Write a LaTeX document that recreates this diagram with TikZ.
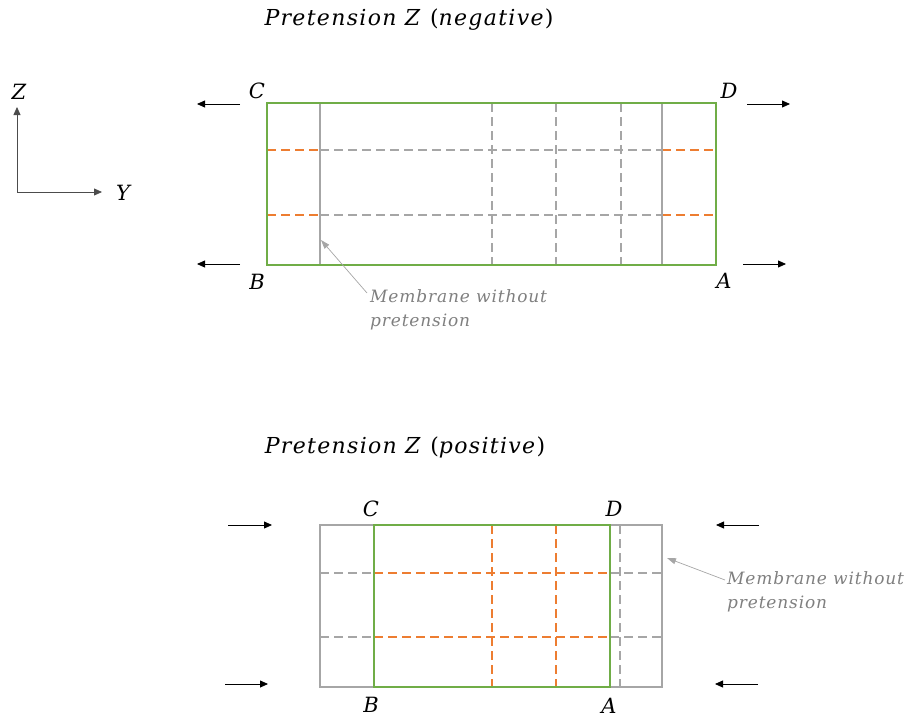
\documentclass[tikz,border=0pt]{standalone}
\usepackage{fontspec}
\setmainfont{DejaVu Serif}
\newfontfamily\wideserif[LetterSpace=6]{DejaVu Serif}
\newfontfamily\noteserif[LetterSpace=5]{DejaVu Serif}
\usetikzlibrary{arrows.meta}
\definecolor{mgreen}{HTML}{70AD47}
\definecolor{morange}{HTML}{ED7D31}
\definecolor{mgray}{HTML}{A6A6A6}
\definecolor{tgray}{HTML}{7F7F7F}
\tikzset{
  grn/.style={draw=mgreen, line width=1.3pt},
  gryline/.style={draw=mgray, line width=1.3pt},
  odash/.style={draw=morange, line width=1.3pt, dash pattern=on 9pt off 5pt},
  gdash/.style={draw=mgray, line width=1.3pt, dash pattern=on 9pt off 5pt},
  force/.style={draw=black, line width=0.8pt, -{Triangle[length=8pt,width=7pt]}},
  lbl/.style={font=\fontsize{21}{25}\selectfont\itshape, inner sep=0pt},
  ttl/.style={font=\wideserif\fontsize{22}{26}\selectfont, inner sep=0pt},
  note/.style={font=\noteserif\fontsize{17}{24}\selectfont\itshape, text=tgray, align=left, inner sep=0pt},
  pointer/.style={draw=mgray, line width=0.7pt, -{Triangle[length=9pt,width=6pt]}}
}
\begin{document}
\begin{tikzpicture}[x=1pt,y=-1pt]
\useasboundingbox (0,0) rectangle (911,717);
% ---------- titles
\node[ttl] (t1) at (409,20) {\textit{Pretension Z} (\textit{negative})};
\node[ttl] (t2) at (405,447) {\textit{Pretension Z} (\textit{positive})};
% ---------- axes
\coordinate (o) at (17,192);
\coordinate (zt) at (17,107);
\coordinate (yt) at (102,192);
\draw[force, draw=black!70] (o) -- (zt);
\draw[force, draw=black!70] (o) -- (yt);
\node[lbl] (zl) at (19,92) {Z};
\node[lbl] (yl) at (123,193) {Y};
% ---------- top diagram
\coordinate (gTL) at (267,103);
\coordinate (gBR) at (716,265);
\coordinate (mTL) at (320,103);
\coordinate (mBR) at (662,265);
\foreach \yy in {150,215}{
  \draw[odash] (267,\yy) -- (320,\yy);
  \draw[gdash] (320,\yy) -- (662,\yy);
  \draw[odash] (662,\yy) -- (716,\yy);
}
\foreach \xx in {492,556,621}{
  \draw[gdash] (\xx,103) -- (\xx,265);
}
\draw[gryline] (mTL) rectangle (mBR);
\draw[grn] (gTL) rectangle (gBR);
\node[lbl] (C1) at (257,91) {C};
\node[lbl] (D1) at (729,91) {D};
\node[lbl] (B1) at (257,282) {B};
\node[lbl] (A1) at (724,281) {A};
\coordinate (f1a) at (240,104); \coordinate (f1b) at (197,104);
\coordinate (f2a) at (240,264); \coordinate (f2b) at (197,264);
\coordinate (f3a) at (747,104); \coordinate (f3b) at (790,104);
\coordinate (f4a) at (743,264); \coordinate (f4b) at (786,264);
\draw[force] (f1a) -- (f1b);
\draw[force] (f2a) -- (f2b);
\draw[force] (f3a) -- (f3b);
\draw[force] (f4a) -- (f4b);
\node[note, anchor=north west] (n1) at (370,289) {Membrane without\\pretension};
\coordinate (p1s) at (367,293);
\coordinate (p1e) at (321,240);
\draw[pointer] (p1s) -- (p1e);
% ---------- bottom diagram
\coordinate (hTL) at (320,525);
\coordinate (hBR) at (662,687);
\coordinate (kTL) at (374,525);
\coordinate (kBR) at (610,687);
\foreach \yy in {573,637}{
  \draw[gdash] (320,\yy) -- (374,\yy);
  \draw[odash] (374,\yy) -- (610,\yy);
  \draw[gdash] (610,\yy) -- (662,\yy);
}
\foreach \xx in {492,556}{
  \draw[odash] (\xx,525) -- (\xx,687);
}
\draw[gdash] (620,525) -- (620,687);
\draw[gryline] (hTL) rectangle (hBR);
\draw[grn] (kTL) rectangle (kBR);
\node[lbl] (C2) at (371,509) {C};
\node[lbl] (D2) at (614,509) {D};
\node[lbl] (B2) at (371,705) {B};
\node[lbl] (A2) at (609,706) {A};
\coordinate (g1a) at (228,525); \coordinate (g1b) at (272,525);
\coordinate (g2a) at (225,684); \coordinate (g2b) at (268,684);
\coordinate (g3a) at (759,525); \coordinate (g3b) at (716,525);
\coordinate (g4a) at (758,684); \coordinate (g4b) at (715,684);
\draw[force] (g1a) -- (g1b);
\draw[force] (g2a) -- (g2b);
\draw[force] (g3a) -- (g3b);
\draw[force] (g4a) -- (g4b);
\node[note, anchor=north west] (n2) at (727,571) {Membrane without\\pretension};
\coordinate (p2s) at (725,580);
\coordinate (p2e) at (667,558);
\draw[pointer] (p2s) -- (p2e);
\end{tikzpicture}
\end{document}
